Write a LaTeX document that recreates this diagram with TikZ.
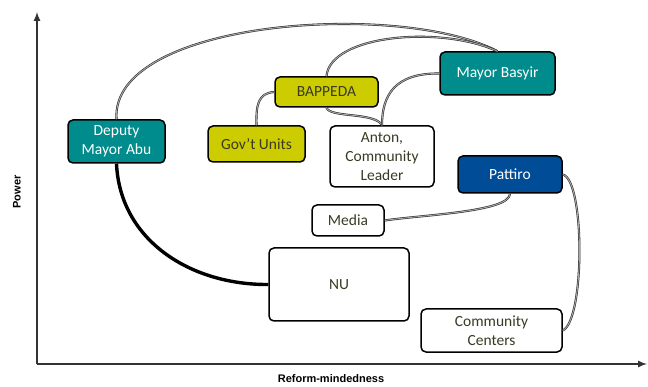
\documentclass[tikz,border=0pt]{standalone}
\usepackage{fontspec}
\setmainfont{Carlito}
\newfontfamily\axisfont{Liberation Sans}
\usetikzlibrary{arrows}

\definecolor{tealbox}{RGB}{0,140,140}
\definecolor{olivebox}{RGB}{204,204,0}
\definecolor{bluebox}{RGB}{0,76,151}
\definecolor{darktext}{RGB}{58,58,36}

\tikzset{
  actor/.style={rectangle,rounded corners=5pt,draw=black,line width=1.5pt,
    align=center,font=\fontsize{15.5}{19}\selectfont,text=darktext,fill=white},
  link/.style={draw=black!85,double=black!35,double distance=1pt,line width=0.55pt},
  strong/.style={draw=black,line width=3.4pt}
}

\begin{document}
\begin{tikzpicture}[x=1pt,y=-1pt]
\useasboundingbox (0,0) rectangle (648,387);

% axes
\draw [->,>=latex,line width=2pt,black!80] (37,364) -- (37,12);
\draw [->,>=latex,line width=2pt,black!80] (37,364) -- (647,364);
\node [rotate=90,font=\axisfont\bfseries\fontsize{11}{13}\selectfont] (ylab) at (17,192) {Power};
\node [font=\axisfont\bfseries\fontsize{11}{13}\selectfont] (xlab) at (331,379) {Reform-mindedness};

\begin{scope}[every node/.style={actor}]
    \node[fill=tealbox,text=white,minimum width=97,minimum height=43] (abu) at (116.5,141.5) {Deputy\\Mayor Abu};
    \node[fill=olivebox,minimum width=103,minimum height=30] (bappeda) at (326.5,92) {BAPPEDA};
    \node[fill=olivebox,minimum width=97,minimum height=36] (govt) at (256.5,144) {Gov't Units};
    \node[fill=tealbox,text=white,minimum width=115,minimum height=43] (basyir) at (497.5,73.5) {Mayor Basyir};
    \node[minimum width=104,minimum height=61] (anton) at (382,156.5) {Anton,\\Community\\Leader};
    \node[fill=bluebox,text=white,minimum width=104,minimum height=37] (pattiro) at (510,174.5) {Pattiro};
    \node[minimum width=72,minimum height=31] (media) at (348,220.5) {Media};
    \node[minimum width=140,minimum height=73] (nu) at (339,284.5) {NU};
    \node[minimum width=141,minimum height=43] (centers) at (491.5,330.5) {Community\\Centers};
\end{scope}

% ties
\draw [link] (abu.north) .. controls (110,20) and (400,0) .. (basyir.north);
\draw [link] (bappeda.north) .. controls (330,35) and (440,25) .. (basyir.north);
\draw [link] (bappeda.west) .. controls (258,93) and (256,105) .. (govt.north);
\draw [link] (bappeda.south) .. controls (330,118) and (375,112) .. (anton.north);
\draw [link] (basyir.west) .. controls (395,73) and (382,95) .. (anton.north);
\draw [link] (pattiro.south) .. controls (510,212) and (420,215) .. (media.east);
\draw [link] (pattiro.east) .. controls (585,180) and (585,320) .. (centers.east);
\draw [strong] (abu.south) .. controls (120,240) and (190,285) .. (nu.west);
\end{tikzpicture}
\end{document}
